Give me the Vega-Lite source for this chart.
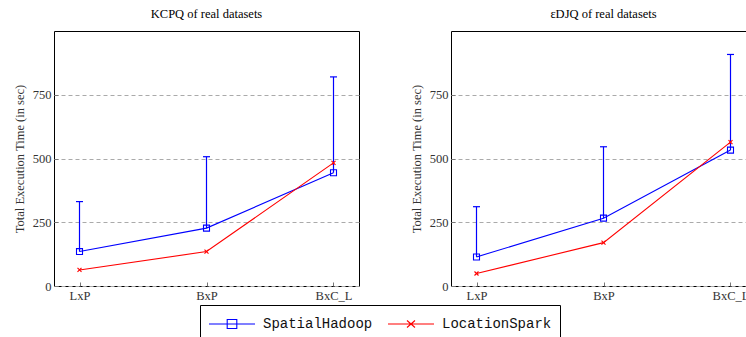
{
  "$schema": "https://vega.github.io/schema/vega-lite/v6.json",
  "padding": {"left": 12, "top": 7, "right": 0, "bottom": 0},
  "datasets": {
    "times": [
      {"panel": "K", "query": "LxP", "series": "SpatialHadoop", "time": 135, "upper": 331},
      {"panel": "K", "query": "BxP", "series": "SpatialHadoop", "time": 227, "upper": 507},
      {"panel": "K", "query": "BxC_L", "series": "SpatialHadoop", "time": 444, "upper": 820},
      {"panel": "K", "query": "LxP", "series": "LocationSpark", "time": 63},
      {"panel": "K", "query": "BxP", "series": "LocationSpark", "time": 135},
      {"panel": "K", "query": "BxC_L", "series": "LocationSpark", "time": 483},
      {"panel": "E", "query": "LxP", "series": "SpatialHadoop", "time": 114, "upper": 311},
      {"panel": "E", "query": "BxP", "series": "SpatialHadoop", "time": 266, "upper": 546},
      {"panel": "E", "query": "BxC_L", "series": "SpatialHadoop", "time": 533, "upper": 908},
      {"panel": "E", "query": "LxP", "series": "LocationSpark", "time": 49},
      {"panel": "E", "query": "BxP", "series": "LocationSpark", "time": 170},
      {"panel": "E", "query": "BxC_L", "series": "LocationSpark", "time": 564}
    ]
  },
  "data": {"name": "times"},
  "spacing": 49,
  "resolve": {"scale": {"color": "shared"}, "legend": {"color": "shared"}},
  "hconcat": [
    {
      "width": 305,
      "height": 255,
      "title": {"text": "KCPQ of real datasets"},
      "transform": [{"filter": "datum.panel === 'K'"}],
      "encoding": {
        "x": {"field": "query", "type": "ordinal", "title": null,
              "scale": {"type": "point", "domain": ["LxP", "BxP", "BxC_L"], "padding": 0.2008},
              "axis": {"labelAngle": 0, "domain": false, "grid": false}}
      },
      "layer": [
        {
          "transform": [{"filter": "datum.series === 'SpatialHadoop'"}],
          "mark": {"type": "rule", "color": "#0000ff", "strokeWidth": 1.2},
          "encoding": {
            "y": {"field": "time", "type": "quantitative", "title": "Total Execution Time (in sec)", "scale": {"domain": [0, 1000], "nice": false},
                  "axis": {"values": [0, 250, 500, 750]}},
            "y2": {"field": "upper"}
          }
        },
        {
          "transform": [{"filter": "datum.series === 'SpatialHadoop'"}],
          "mark": {"type": "tick", "color": "#0000ff", "size": 7, "thickness": 1.2, "opacity": 1},
          "encoding": {
            "y": {"field": "upper", "type": "quantitative", "title": "Total Execution Time (in sec)", "axis": {"values": [0, 250, 500, 750]}}
          }
        },
        {
          "mark": {"type": "line", "strokeWidth": 1.1},
          "encoding": {
            "y": {"field": "time", "type": "quantitative", "title": "Total Execution Time (in sec)", "axis": {"values": [0, 250, 500, 750]}},
            "color": {"field": "series", "type": "nominal",
                      "scale": {"domain": ["SpatialHadoop", "LocationSpark"], "range": ["#0000ff", "#ff0000"]},
                      "legend": {
                        "orient": "none", "legendX": 146, "legendY": 274, "direction": "horizontal", "title": null,
                        "strokeColor": "#000", "padding": 8, "symbolSize": 400, "symbolStrokeWidth": 1.1,
                        "labelFont": "Liberation Mono", "labelFontSize": 14, "labelColor": "#111", "labelOffset": 33, "columnPadding": 12,
                        "encode": {"symbols": {"update": {
                          "shape": {"signal": "datum.value === 'SpatialHadoop' ? 'M-1,0H3.6M0.82,-0.45H1.78V0.45H0.82Z' : 'M-1,0H3.6M0.9,-0.35L1.7,0.35M0.9,0.35L1.7,-0.35'"},
                          "fill": {"value": "transparent"}
                        }}}
                      }}
          }
        },
        {
          "transform": [{"filter": "datum.series === 'SpatialHadoop'"}],
          "mark": {"type": "point", "shape": "square", "size": 36, "filled": false, "color": "#0000ff", "strokeWidth": 1.1, "opacity": 1},
          "encoding": {"y": {"field": "time", "type": "quantitative", "title": "Total Execution Time (in sec)", "axis": {"values": [0, 250, 500, 750]}}}
        },
        {
          "transform": [{"filter": "datum.series === 'LocationSpark'"}],
          "mark": {"type": "point", "shape": "M-1,-1L1,1M-1,1L1,-1", "size": 16, "filled": false, "color": "#ff0000", "strokeWidth": 1.1, "opacity": 1},
          "encoding": {"y": {"field": "time", "type": "quantitative", "title": "Total Execution Time (in sec)", "axis": {"values": [0, 250, 500, 750]}}}
        }
      ]
    },
    {
      "width": 305,
      "height": 255,
      "title": {"text": "εDJQ of real datasets"},
      "transform": [{"filter": "datum.panel === 'E'"}],
      "encoding": {
        "x": {"field": "query", "type": "ordinal", "title": null,
              "scale": {"type": "point", "domain": ["LxP", "BxP", "BxC_L"], "padding": 0.2008},
              "axis": {"labelAngle": 0, "domain": false, "grid": false}}
      },
      "layer": [
        {
          "transform": [{"filter": "datum.series === 'SpatialHadoop'"}],
          "mark": {"type": "rule", "color": "#0000ff", "strokeWidth": 1.2},
          "encoding": {
            "y": {"field": "time", "type": "quantitative", "title": "Total Execution Time (in sec)", "scale": {"domain": [0, 1000], "nice": false},
                  "axis": {"values": [0, 250, 500, 750]}},
            "y2": {"field": "upper"}
          }
        },
        {
          "transform": [{"filter": "datum.series === 'SpatialHadoop'"}],
          "mark": {"type": "tick", "color": "#0000ff", "size": 7, "thickness": 1.2, "opacity": 1},
          "encoding": {
            "y": {"field": "upper", "type": "quantitative", "title": "Total Execution Time (in sec)", "axis": {"values": [0, 250, 500, 750]}}
          }
        },
        {
          "mark": {"type": "line", "strokeWidth": 1.1},
          "encoding": {
            "y": {"field": "time", "type": "quantitative", "title": "Total Execution Time (in sec)", "axis": {"values": [0, 250, 500, 750]}},
            "color": {"field": "series", "type": "nominal",
                      "scale": {"domain": ["SpatialHadoop", "LocationSpark"], "range": ["#0000ff", "#ff0000"]}}
          }
        },
        {
          "transform": [{"filter": "datum.series === 'SpatialHadoop'"}],
          "mark": {"type": "point", "shape": "square", "size": 36, "filled": false, "color": "#0000ff", "strokeWidth": 1.1, "opacity": 1},
          "encoding": {"y": {"field": "time", "type": "quantitative", "title": "Total Execution Time (in sec)", "axis": {"values": [0, 250, 500, 750]}}}
        },
        {
          "transform": [{"filter": "datum.series === 'LocationSpark'"}],
          "mark": {"type": "point", "shape": "M-1,-1L1,1M-1,1L1,-1", "size": 16, "filled": false, "color": "#ff0000", "strokeWidth": 1.1, "opacity": 1},
          "encoding": {"y": {"field": "time", "type": "quantitative", "title": "Total Execution Time (in sec)", "axis": {"values": [0, 250, 500, 750]}}}
        }
      ]
    }
  ],
  "config": {
    "font": "Liberation Serif",
    "view": {"stroke": "#000", "strokeWidth": 1},
    "title": {"font": "Liberation Serif", "fontSize": 12.5, "fontWeight": "normal", "color": "#000", "offset": 11},
    "axis": {
      "labelFont": "Liberation Serif", "labelFontSize": 12.5, "labelColor": "#333",
      "titleFont": "Liberation Serif", "titleFontSize": 12.5, "titleFontWeight": "normal", "titleColor": "#333",
      "ticks": true, "tickSize": -4, "tickColor": "#777", "labelPadding": 7
    },
    "axisY": {"grid": true, "gridDash": [4, 3], "gridColor": "#aaa", "domain": false, "titlePadding": 6},
    "axisX": {"labelPadding": 7}
  }
}
